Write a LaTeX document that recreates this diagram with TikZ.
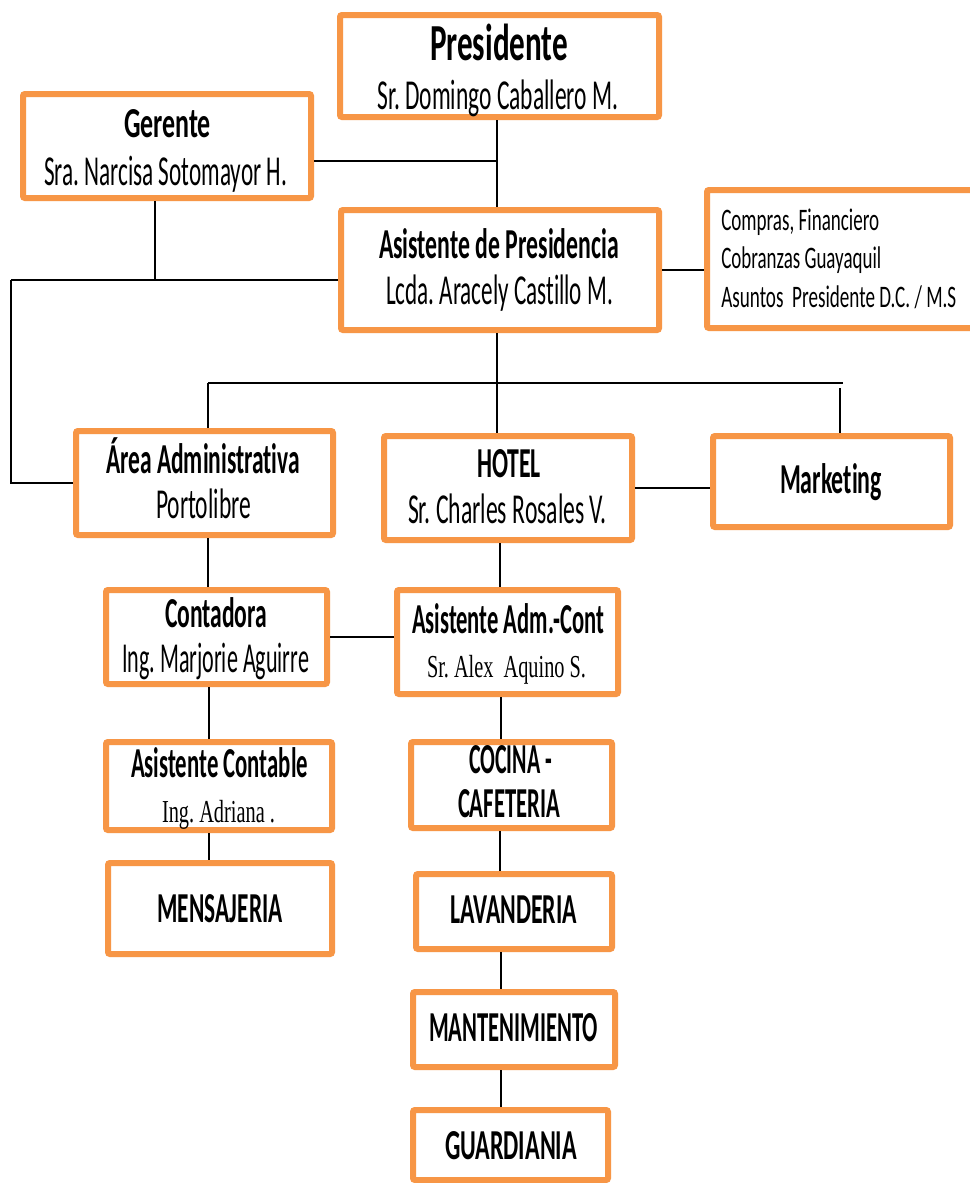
\documentclass[tikz,border=0pt]{standalone}
\usepackage{fontspec}
\usepackage{graphicx}
\setmainfont{Carlito}[Ligatures=NoCommon]
\newfontfamily\serifn{Liberation Serif}
\definecolor{boxorange}{HTML}{F79646}
\newdimen\pxu \pxu=0.75pt
\newcommand\orgbox[5]{\node[box, minimum width=#4*0.75pt, minimum height=#5*0.75pt] (#1) at (#2,#3) {};}
\newcommand\fw[2]{\resizebox{#1\pxu}{\height}{#2}}
\begin{document}
\frenchspacing
\begin{tikzpicture}[x=0.75pt,y=-0.75pt,
  box/.style={draw=boxorange, line width=4.5pt, rounded corners=1.5pt, fill=white, inner sep=0pt},
  txt/.style={inner sep=0pt, anchor=base, font=\fontsize{32}{38}\selectfont},
  big/.style={inner sep=0pt, anchor=base, font=\fontsize{39}{45}\selectfont\bfseries},
  small/.style={inner sep=0pt, anchor=base west, font=\fontsize{23.5}{28}\selectfont},
  serif/.style={inner sep=0pt, anchor=base, font=\fontsize{24}{28}\selectfont\serifn},
  conn/.style={line width=1.2pt, black},
  thickconn/.style={line width=2.2pt, black}]
\clip (0,0) rectangle (970,1183);
\fill[white] (0,0) rectangle (970,1183);

% boxes
\orgbox{pres}{499.5}{66}{319}{102}
\orgbox{ger}{167}{146}{288}{104}
\orgbox{asis}{500}{270}{318}{120}
\orgbox{comp}{844.5}{259}{275}{138}
\orgbox{area}{204.5}{483}{257}{104}
\orgbox{hotel}{508}{488}{248}{104}
\orgbox{mkt}{831.5}{481.5}{237}{91}
\orgbox{cont}{216.5}{637}{221}{94}
\orgbox{aac}{507.5}{642}{221}{104}
\orgbox{acont}{219}{786}{226}{88}
\orgbox{mens}{220}{908.5}{224}{91}
\orgbox{coc}{511.5}{785}{201}{86}
\orgbox{lav}{514}{911.5}{196}{75}
\orgbox{mant}{514}{1029.5}{202}{75}
\orgbox{guard}{510.5}{1145}{195}{70}

% texts
\node[big] (presA) at (499,60) {\fw{138}{Presidente}};
\node[txt] (presB) at (498,109) {\fw{241}{Sr. Domingo Caballero M.}};
\node[txt] (gerA) at (167.5,137) {\fw{87}{\bfseries Gerente}};
\node[txt] (gerB) at (165.5,185) {\fw{243}{Sra. Narcisa Sotomayor H.}};
\node[txt] (asisA) at (499,258) {\fw{240}{\bfseries Asistente de Presidencia}};
\node[txt] (asisB) at (499.5,304) {\fw{227}{Lcda. Aracely Castillo M.}};
\node[small] (compA) at (721,230) {\fw{158}{Compras, Financiero}};
\node[small] (compB) at (721,268) {\fw{160}{Cobranzas Guayaquil}};
\node[small] (compC) at (721,307) {\fw{235}{Asuntos\ \ Presidente D.C. / M.S}};
\node[txt] (areaA) at (203,473) {\fw{194}{\bfseries Área Administrativa}};
\node[txt] (areaB) at (203.5,518) {\fw{95}{Portolibre}};
\node[txt] (hotelA) at (509,477) {\fw{64}{\bfseries HOTEL}};
\node[txt] (hotelB) at (507.5,523) {\fw{199}{Sr. Charles Rosales V.}};
\node[txt] (mktA) at (831,493) {\fw{102}{\bfseries Marketing}};
\node[txt] (contA) at (216,627) {\fw{102}{\bfseries Contadora}};
\node[txt] (contB) at (215.5,672) {\fw{187}{Ing. Marjorie Aguirre}};
\node[txt] (aacA) at (508,633) {\fw{192}{\bfseries Asistente Adm.-Cont}};
\node[serif] (aacB) at (506.5,677) {\fw{159}{Sr. Alex\ \ Aquino S.}};
\node[txt] (acontA) at (219.5,777) {\fw{177}{\bfseries Asistente Contable}};
\node[serif] (acontB) at (218.5,822) {\fw{113}{Ing. Adriana .}};
\node[txt] (cocA) at (510.5,773) {\fw{83}{\bfseries COCINA -}};
\node[txt] (cocB) at (509,817) {\fw{102}{\bfseries CAFETERIA}};
\node[txt] (mensA) at (220,922) {\fw{125}{\bfseries MENSAJERIA}};
\node[txt] (lavA) at (513.5,923) {\fw{127}{\bfseries LAVANDERIA}};
\node[txt] (mantA) at (513.5,1041) {\fw{169}{\bfseries MANTENIMIENTO}};
\node[txt] (guardA) at (511,1159) {\fw{132}{\bfseries GUARDIANIA}};

% junctions
\coordinate (j1) at (497,161);
\coordinate (j2) at (155,280);
\coordinate (j3) at (11,280);
\coordinate (j4) at (208,383);
\coordinate (j5) at (843,383);
\coordinate (j6) at (840,388);
\coordinate (j7) at (500,560);
\coordinate (j8) at (209,710);
\coordinate (j9) at (501,720);

% connectors
\draw[conn] (pres.south -| j1) -- (asis.north -| j1);
\draw[conn] (ger.east |- j1) -- (j1);
\draw[conn] (ger.south -| j2) -- (j2);
\draw[conn] (j3) -- (asis.west |- j3);
\draw[conn] (j3) -- (j3 |- area.west) -- (area.west);
\draw[conn] (asis.south -| j1) -- (hotel.north -| j1);
\draw[thickconn] (j4) -- (j5);
\draw[conn] (j4) -- (area.north -| j4);
\draw[conn] (j6) -- (mkt.north -| j6);
\draw[conn] (asis.east) -- (comp.west |- asis.east);
\draw[conn] (hotel.east) -- (mkt.west |- hotel.east);
\draw[conn] (area.south -| j4) -- (cont.north -| j4);
\draw[conn] (cont.east) -- (aac.west |- cont.east);
\draw[conn] (hotel.south -| j7) -- (aac.north -| j7);
\draw[conn] (cont.south -| j8) -- (acont.north -| j8);
\draw[conn] (acont.south -| j8) -- (mens.north -| j8);
\draw[conn] (aac.south -| j9) -- (coc.north -| j9);
\draw[conn] (coc.south -| j7) -- (lav.north -| j7);
\draw[conn] (lav.south -| j9) -- (mant.north -| j9);
\draw[conn] (mant.south -| j9) -- (guard.north -| j9);
\end{tikzpicture}
\end{document}
